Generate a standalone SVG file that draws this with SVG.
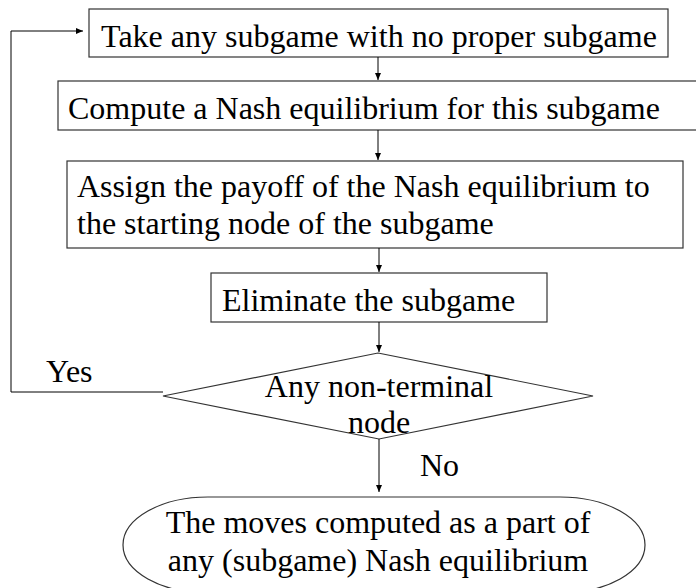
<svg xmlns="http://www.w3.org/2000/svg" width="696" height="588" viewBox="0 0 696 588">
<style>
.box{fill:#fff;stroke:#333;stroke-width:1.2}
.t{font-family:'Times New Roman','Liberation Serif',Times,'DejaVu Serif',serif;font-size:32px;fill:#000}
.m{text-anchor:middle}
.c{fill:none;stroke:#000;stroke-width:1}
</style>
<defs>
<marker id="ah" markerWidth="8" markerHeight="8" refX="7" refY="4" orient="auto" markerUnits="userSpaceOnUse">
<path d="M0,1 L7,4 L0,7 Z" fill="#000"/>
</marker>
</defs>
<rect width="696" height="588" fill="#fff"/>
<g id="n1">
<rect class="box" x="89" y="9" width="579" height="48"/>
<text class="t m" x="379" y="47">Take any subgame with no proper subgame</text>
</g>
<g id="n2">
<rect class="box" x="58" y="81" width="660" height="49"/>
<text class="t" x="68" y="119">Compute a Nash equilibrium for this subgame</text>
</g>
<g id="n3">
<rect class="box" x="67" y="161" width="616" height="87"/>
<text class="t" x="77" y="197">Assign the payoff of the Nash equilibrium to</text>
<text class="t" x="77" y="234">the starting node of the subgame</text>
</g>
<g id="n4">
<rect class="box" x="211" y="273" width="336" height="49"/>
<text class="t" x="222" y="311">Eliminate the subgame</text>
</g>
<g id="n5">
<polygon class="box" points="378,353 593,396 379,439 163,396"/>
<text class="t m" x="379" y="397">Any non-terminal</text>
<text class="t m" x="379" y="433">node</text>
</g>
<g id="n6">
<rect class="box" x="123" y="497" width="522" height="96" rx="85" ry="48"/>
<text class="t m" x="378" y="533">The moves computed as a part of</text>
<text class="t m" x="378" y="571">any (subgame) Nash equilibrium</text>
</g>
<g id="connectors">
<line class="c" x1="378" y1="57" x2="378" y2="80" marker-end="url(#ah)"/>
<line class="c" x1="378" y1="130" x2="378" y2="160" marker-end="url(#ah)"/>
<line class="c" x1="379" y1="248" x2="379" y2="272" marker-end="url(#ah)"/>
<line class="c" x1="379" y1="322" x2="379" y2="352" marker-end="url(#ah)"/>
<line class="c" x1="379" y1="439" x2="379" y2="492" marker-end="url(#ah)"/>
<polyline class="c" points="163,392 11,392 11,31 83,31" marker-end="url(#ah)"/>
<text class="t" x="46" y="382">Yes</text>
<text class="t" x="420" y="476">No</text>
</g>
</svg>
